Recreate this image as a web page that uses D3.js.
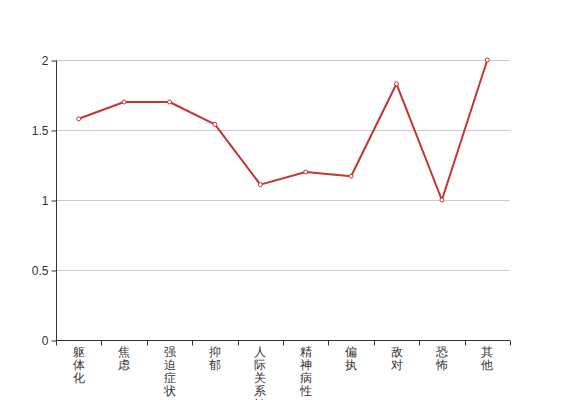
<!DOCTYPE html>
<html><head><meta charset="utf-8">
<script src="https://cdn.jsdelivr.net/npm/d3@7"></script>
<style>html,body{margin:0;padding:0;background:#fff;}svg{display:block;}</style>
</head><body>
<svg id="c" width="567" height="400"></svg>
<script>
const categories = ["躯体化","焦虑","强迫症状","抑郁","人际关系敏感","精神病性","偏执","敌对","恐怖","其他"];
const values = [1.58, 1.70, 1.70, 1.54, 1.11, 1.20, 1.17, 1.83, 1.00, 2.00];
const yTicks = [0, 0.5, 1, 1.5, 2];

const svg = d3.select("#c");
const m = {l:56, r:510, t:60, b:340};
const x = d3.scaleBand().domain(categories).range([m.l, m.r]);
const y = d3.scaleLinear().domain([0,2]).range([m.b, m.t]);
const font = "sans-serif";

// grid
svg.append("g").selectAll("line").data(yTicks.filter(d=>d>0)).join("line")
  .attr("x1", m.l).attr("x2", m.r)
  .attr("y1", d=>y(d)+0.5).attr("y2", d=>y(d)+0.5)
  .attr("stroke", "#ccc").attr("stroke-width", 1);

// y axis
const ya = svg.append("g").attr("transform", `translate(${m.l+0.5},0.5)`)
  .call(d3.axisLeft(y).tickValues(yTicks).tickSize(5).tickPadding(3).tickFormat(d=>d));
ya.select(".domain").attr("stroke", "#333").attr("d", `M0,${m.b}V${m.t}`);
ya.selectAll(".tick line").attr("stroke", "#333");
ya.selectAll(".tick text").attr("fill", "#333").attr("font-size", 12).attr("font-family", font);

// x axis
const xa = svg.append("g").attr("transform", `translate(0,${m.b+0.5})`);
xa.append("line").attr("x1", m.l).attr("x2", m.r).attr("stroke", "#333");
const bounds = categories.map(c=>x(c)).concat([m.r]);
xa.selectAll("line.t").data(bounds).join("line").attr("class","t")
  .attr("x1", d=>Math.round(d)+0.5).attr("x2", d=>Math.round(d)+0.5)
  .attr("y1", 0).attr("y2", 5).attr("stroke", "#333");
const lab = xa.selectAll("text").data(categories).join("text")
  .attr("font-size", 12).attr("font-family", font).attr("fill", "#333")
  .attr("text-anchor", "middle");
lab.each(function(c){
  const t = d3.select(this);
  Array.from(c).forEach((ch,i)=>{
    t.append("tspan").attr("x", x(c)+x.bandwidth()/2).attr("y", 15 + i*13).text(ch);
  });
});

// line
const line = d3.line().x((d,i)=>x(categories[i])+x.bandwidth()/2).y(d=>y(d));
svg.append("path").datum(values).attr("d", line)
  .attr("fill","none").attr("stroke","#c23531").attr("stroke-width",2).attr("stroke-linejoin","round");
svg.append("g").selectAll("circle").data(values).join("circle")
  .attr("cx",(d,i)=>x(categories[i])+x.bandwidth()/2).attr("cy", d=>y(d)).attr("r",2)
  .attr("fill","#fff").attr("stroke","#c23531").attr("stroke-width",1);
</script>
</body></html>
